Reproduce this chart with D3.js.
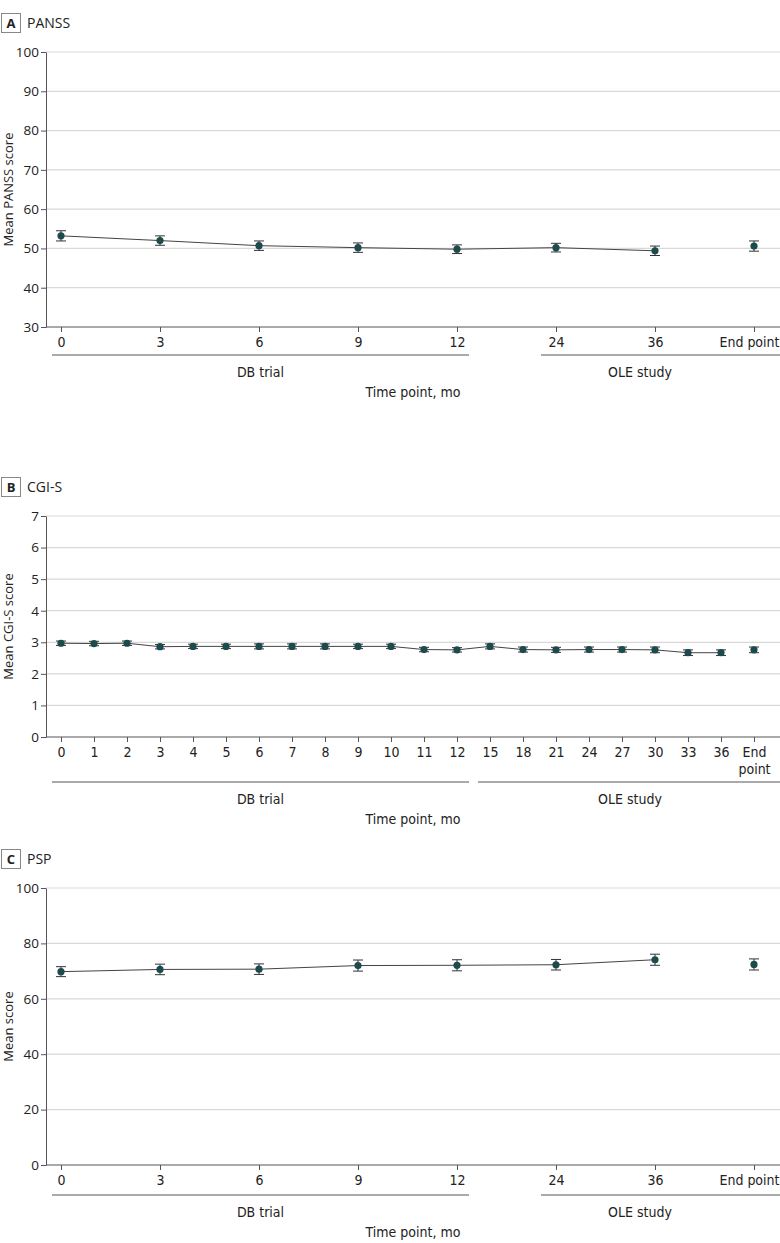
<!DOCTYPE html>
<html><head><meta charset="utf-8">
<script src="https://cdn.jsdelivr.net/npm/d3@7"></script>
<style>
body{margin:0;background:#fff;}
svg{display:block;}
.nar{font-family:'DejaVu Sans Condensed','DejaVu Sans',sans-serif;font-stretch:condensed;}
</style></head>
<body><svg id="c" width="780" height="1243"></svg>
<script>
// ---------- DATA ----------
const panssCats = ["0","3","6","9","12","24","36","End point"];
const panssMean = [53.2, 52.0, 50.7, 50.2, 49.8, 50.2, 49.4, 50.6];
const panssErr  = [1.3, 1.2, 1.2, 1.2, 1.1, 1.1, 1.2, 1.3];
const panssTicks = [30,40,50,60,70,80,90,100];

const cgiCats = ["0","1","2","3","4","5","6","7","8","9","10","11","12","15","18","21","24","27","30","33","36","End point"];
const cgiMean = [2.97,2.96,2.97,2.86,2.87,2.87,2.87,2.87,2.87,2.87,2.87,2.77,2.76,2.87,2.77,2.76,2.77,2.77,2.76,2.67,2.67,2.76];
const cgiErr  = [0.07,0.07,0.07,0.07,0.07,0.07,0.08,0.08,0.08,0.07,0.07,0.07,0.07,0.08,0.08,0.08,0.08,0.08,0.09,0.09,0.09,0.09];
const cgiTicks = [0,1,2,3,4,5,6,7];

const pspCats = ["0","3","6","9","12","24","36","End point"];
const pspMean = [69.8, 70.6, 70.7, 72.0, 72.1, 72.3, 74.1, 72.4];
const pspErr  = [1.8, 1.9, 1.9, 2.0, 2.0, 1.9, 2.0, 2.0];
const pspTicks = [0,20,40,60,80,100];

// ---------- DRAW ----------
const svg = d3.select("#c");
const sans = "'Open Sans','Noto Sans',Lato,sans-serif";
const axisCol = "#555";
const gridCol = "#d9d9d9";
const ptCol = "#1d4a4c";

function panel(o){
  const g = svg.append("g");
  // title
  g.append("rect").attr("x",1.5).attr("y",o.top-38.5).attr("width",19).attr("height",19)
    .attr("fill","#fff").attr("stroke","#888").attr("stroke-width",1);
  g.append("text").attr("x",11).attr("y",o.top-24).attr("text-anchor","middle")
    .attr("font-family",sans).attr("font-weight","bold").attr("font-size",13).attr("fill","#222").text(o.letter);
  g.append("text").attr("x",27).attr("y",o.top-24).attr("font-family",sans)
    .attr("font-size",14).attr("fill","#222").text(o.title);

  const x = d3.scalePoint().domain(o.cats).range([61,754]);
  const y = d3.scaleLinear().domain(o.yDomain).range([o.bottom,o.top]);

  // grid
  g.append("g").selectAll("line").data(o.ticks.filter(t=>t!==o.yDomain[0])).join("line")
    .attr("x1",46).attr("x2",780).attr("y1",d=>y(d)).attr("y2",d=>y(d))
    .attr("stroke",gridCol).attr("stroke-width",1.2);

  // y axis
  const ya = g.append("g").attr("transform","translate(46,0)")
    .call(d3.axisLeft(y).tickValues(o.ticks).tickFormat(d3.format("d")).tickSize(5).tickSizeOuter(0).tickPadding(2));
  ya.select(".domain").attr("stroke",axisCol);
  ya.selectAll(".tick line").attr("stroke",axisCol);
  ya.selectAll(".tick text").attr("font-family",sans).attr("font-size",13.5).attr("fill","#222");

  // x axis
  const xa = g.append("g").attr("transform",`translate(0,${o.bottom})`)
    .call(d3.axisBottom(x).tickSize(5).tickSizeOuter(0).tickPadding(5));
  xa.select(".domain").remove();
  xa.selectAll(".tick line").attr("stroke",axisCol);
  xa.selectAll(".tick text").attr("class","nar").attr("font-family",null).attr("font-size",14).attr("fill","#222");
  const endTxt = xa.selectAll(".tick text").filter(d=>d==="End point");
  if(o.wrapEnd){
    endTxt.each(function(){
      const t = d3.select(this); t.text(null);
      t.append("tspan").attr("x",0).attr("dy","0.71em").text("End");
      t.append("tspan").attr("x",0).attr("dy","1.2em").text("point");
    }).attr("dy",null);
  } else {
    endTxt.attr("text-anchor","end").attr("x",25);
  }
  g.append("line").attr("x1",46).attr("x2",780).attr("y1",o.bottom).attr("y2",o.bottom)
    .attr("stroke",axisCol).attr("stroke-width",1);

  // brackets
  const by = o.bottom + o.brOff;
  const dbEnd = x(o.dbLast) + 12;
  const oleStart = x(o.oleFirst) - o.oleGap;
  g.append("line").attr("x1",52).attr("x2",dbEnd).attr("y1",by).attr("y2",by).attr("stroke","#555");
  g.append("line").attr("x1",oleStart).attr("x2",780).attr("y1",by).attr("y2",by).attr("stroke","#555");
  g.append("text").attr("class","nar").attr("x",(52+dbEnd)/2).attr("y",by+22).attr("text-anchor","middle")
    .attr("font-size",14).attr("fill","#222").text("DB trial");
  g.append("text").attr("class","nar").attr("x",o.oleX).attr("y",by+22).attr("text-anchor","middle")
    .attr("font-size",14).attr("fill","#222").text("OLE study");
  g.append("text").attr("class","nar").attr("x",413).attr("y",by+42).attr("text-anchor","middle")
    .attr("font-size",14).attr("fill","#222").text("Time point, mo");

  // y label
  g.append("text").attr("transform",`translate(13,${(o.top+o.bottom)/2}) rotate(-90)`)
    .attr("text-anchor","middle").attr("font-family",sans).attr("font-size",13).attr("fill","#222").text(o.yLabel);

  const data = o.cats.map((c,i)=>({c, m:o.mean[i], e:o.err[i]}));
  const lineData = data.filter(d=>d.c!=="End point");
  g.append("path").datum(lineData)
    .attr("d", d3.line().x(d=>x(d.c)).y(d=>y(d.m)))
    .attr("fill","none").attr("stroke","#444").attr("stroke-width",1);

  const eb = g.append("g").selectAll("g").data(data).join("g");
  eb.append("line").attr("x1",d=>x(d.c)).attr("x2",d=>x(d.c))
    .attr("y1",d=>y(d.m-d.e)).attr("y2",d=>y(d.m+d.e)).attr("stroke","#333");
  eb.append("line").attr("x1",d=>x(d.c)-5).attr("x2",d=>x(d.c)+5)
    .attr("y1",d=>y(d.m-d.e)).attr("y2",d=>y(d.m-d.e)).attr("stroke","#333");
  eb.append("line").attr("x1",d=>x(d.c)-5).attr("x2",d=>x(d.c)+5)
    .attr("y1",d=>y(d.m+d.e)).attr("y2",d=>y(d.m+d.e)).attr("stroke","#333");
  eb.append("circle").attr("cx",d=>x(d.c)).attr("cy",d=>y(d.m)).attr("r",3.6).attr("fill",ptCol);
}

panel({letter:"A",title:"PANSS",cats:panssCats,mean:panssMean,err:panssErr,ticks:panssTicks,
  yDomain:[30,100],top:52,bottom:327,yLabel:"Mean PANSS score",dbLast:"12",oleFirst:"24",oleGap:15,
  brOff:28,oleX:640,wrapEnd:false});
panel({letter:"B",title:"CGI-S",cats:cgiCats,mean:cgiMean,err:cgiErr,ticks:cgiTicks,
  yDomain:[0,7],top:516,bottom:737,yLabel:"Mean CGI-S score",dbLast:"12",oleFirst:"15",oleGap:12,
  brOff:45,oleX:630,wrapEnd:true});
panel({letter:"C",title:"PSP",cats:pspCats,mean:pspMean,err:pspErr,ticks:pspTicks,
  yDomain:[0,100],top:888,bottom:1165,yLabel:"Mean score",dbLast:"12",oleFirst:"24",oleGap:15,
  brOff:30,oleX:640,wrapEnd:false});
</script></body></html>
